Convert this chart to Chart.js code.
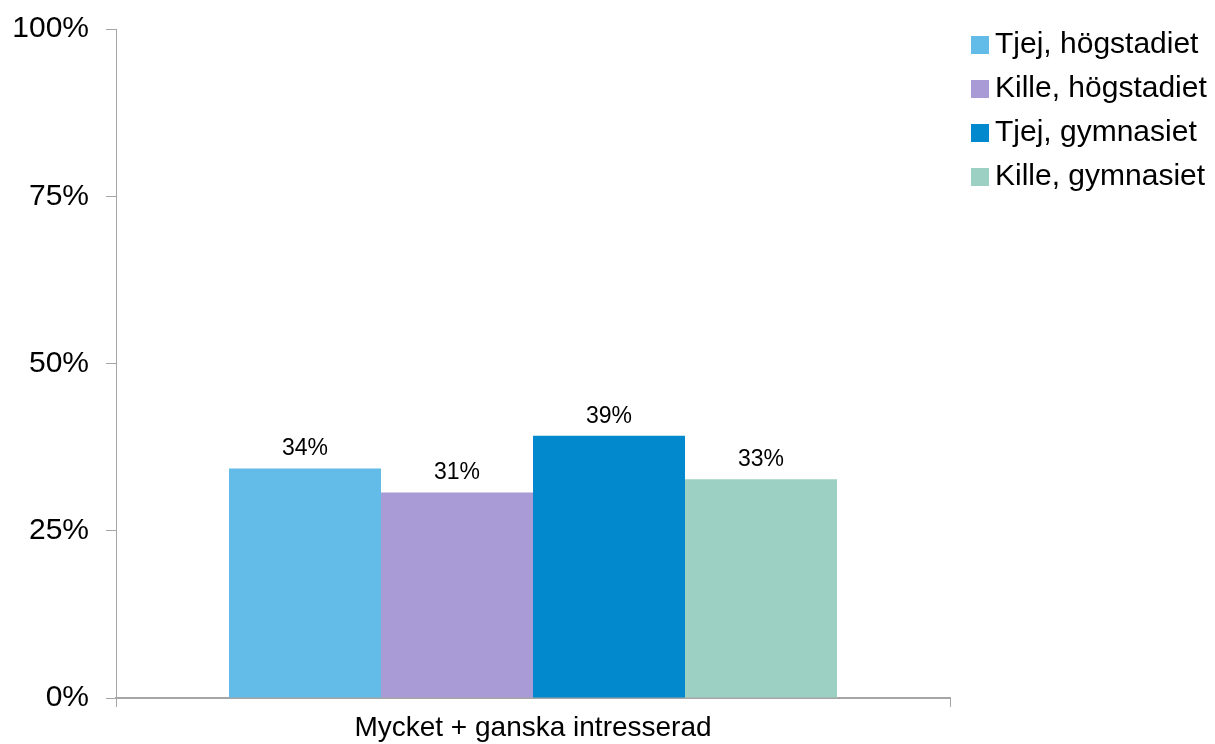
<!DOCTYPE html>
<html lang="sv">
<head>
  <meta charset="UTF-8">
  <title>Intresse</title>
  <script src="https://cdn.jsdelivr.net/npm/chart.js"></script>
  <style>
    body { margin: 0; background: #fff; }
    #wrap { width: 1215px; height: 744px; position: relative; }
  </style>
</head>
<body>
  <div id="wrap"><canvas id="chart"></canvas></div>

  <script>
    // data
    const categories = ['Mycket + ganska intresserad'];
    const seriesNames = ['Tjej, högstadiet', 'Kille, högstadiet', 'Tjej, gymnasiet', 'Kille, gymnasiet'];
    const tjejHog = [34.3];
    const killeHog = [30.7];
    const tjejGym = [39.2];
    const killeGym = [32.7];
    const yTicks = [0, 25, 50, 75, 100];

    const colors = ['#63bce8', '#a99bd6', '#0288cc', '#9bd0c3'];
    const font = 'Liberation Sans, Arial, sans-serif';
    const axisGrey = '#a6a6a6';

    // value labels above each bar
    const barLabels = {
      id: 'barLabels',
      afterDatasetsDraw(chart) {
        const ctx = chart.ctx;
        ctx.save();
        ctx.font = '23px ' + font;
        ctx.fillStyle = '#000';
        ctx.textAlign = 'center';
        ctx.textBaseline = 'bottom';
        chart.data.datasets.forEach((ds, i) => {
          chart.getDatasetMeta(i).data.forEach((bar, j) => {
            ctx.fillText(Math.round(ds.data[j]) + '%', bar.x, bar.y - 8);
          });
        });
        ctx.restore();
      }
    };

    // legend drawn at the top right
    const sideLegend = {
      id: 'sideLegend',
      afterDraw(chart) {
        const ctx = chart.ctx;
        ctx.save();
        ctx.font = '30px ' + font;
        ctx.textBaseline = 'middle';
        chart.data.datasets.forEach((ds, i) => {
          const y = 45 + i * 44;
          ctx.fillStyle = ds.backgroundColor;
          ctx.fillRect(971, y - 9, 18, 18);
          ctx.fillStyle = '#000';
          ctx.fillText(ds.label, 995, y);
        });
        ctx.restore();
      }
    };

    const allSeries = [tjejHog, killeHog, tjejGym, killeGym];

    new Chart(document.getElementById('chart'), {
      type: 'bar',
      data: {
        labels: categories,
        datasets: allSeries.map((vals, i) => ({
          label: seriesNames[i],
          data: vals,
          backgroundColor: colors[i],
          borderWidth: 0,
          categoryPercentage: 0.729,
          barPercentage: 1.0
        }))
      },
      options: {
        responsive: true,
        maintainAspectRatio: false,
        animation: false,
        layout: { padding: { left: 0, right: 265, top: 28, bottom: 0 } },
        plugins: {
          legend: { display: false },
          tooltip: { enabled: false }
        },
        scales: {
          x: {
            grid: {
              offset: true,
              drawOnChartArea: false,
              drawTicks: true,
              tickLength: 9,
              color: axisGrey
            },
            border: { color: axisGrey, width: 2 },
            ticks: {
              color: '#000',
              font: { family: font, size: 28 },
              padding: 4
            },
            afterFit(scale) { scale.height = 46; }
          },
          y: {
            min: 0,
            max: 100,
            afterBuildTicks(scale) {
              scale.ticks = yTicks.map(v => ({ value: v }));
            },
            grid: {
              drawOnChartArea: false,
              drawTicks: true,
              tickLength: 10,
              color: axisGrey
            },
            border: { color: axisGrey, width: 1 },
            ticks: {
              color: '#000',
              font: { family: font, size: 30, lineHeight: 0.8 },
              padding: 17,
              callback: v => v + '%'
            },
            afterFit(scale) { scale.width = 116; }
          }
        }
      },
      plugins: [barLabels, sideLegend]
    });
  </script>
</body>
</html>
